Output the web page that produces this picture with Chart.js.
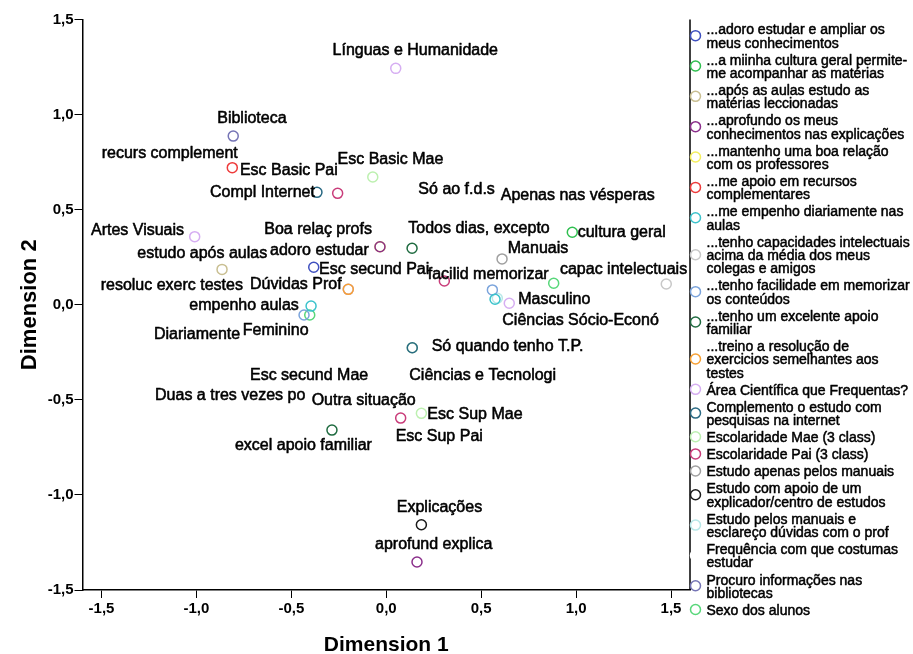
<!DOCTYPE html>
<html><head><meta charset="utf-8">
<script src="https://cdn.jsdelivr.net/npm/chart.js@4.4.1/dist/chart.umd.min.js"></script>
<style>html,body{margin:0;padding:0;background:#fff}#wrap{width:913px;height:654px}</style>
</head><body><div id="wrap"><canvas id="c" width="913" height="654"></canvas></div>
<script>
// ---- series (legend) ----
const seriesNames = [
 ['...adoro estudar e ampliar os','meus conhecimentos'],
 ['...a miinha cultura geral permite-','me acompanhar as matérias'],
 ['...após as aulas estudo as','matérias leccionadas'],
 ['...aprofundo os meus','conhecimentos nas explicações'],
 ['...mantenho uma boa relação','com os professores'],
 ['...me apoio em recursos','complementares'],
 ['...me empenho diariamente nas','aulas'],
 ['...tenho capacidades intelectuais','acima da média dos meus','colegas e amigos'],
 ['...tenho facilidade em memorizar','os conteúdos'],
 ['...tenho um excelente apoio','familiar'],
 ['...treino a resolução de','exercicios semelhantes aos','testes'],
 ['Área Científica que Frequentas?'],
 ['Complemento o estudo com','pesquisas na internet'],
 ['Escolaridade Mae (3 class)'],
 ['Escolaridade Pai (3 class)'],
 ['Estudo apenas pelos manuais'],
 ['Estudo com apoio de um','explicador/centro de estudos'],
 ['Estudo pelos manuais e','esclareço dúvidas com o prof'],
 ['Frequência com que costumas','estudar'],
 ['Procuro informações nas','bibliotecas'],
 ['Sexo dos alunos']
];
const seriesColors = ['#3f50bf','#2fbf4f','#c9bf92','#8b2f8b','#f5ef5c','#ee3b3b','#3cc3cc','#c8c8c8',
 '#7ba4dc','#1f6b40','#f7a033','#d6aef2','#2a6a84','#bdf0b0','#c93d7a','#a0a0a0','#1a1a1a',
 '#b8e8e8','#ffffff','#7574b5','#58d77a'];

// ---- category points ----
const pointSeries = [0,1,2,3,3,4,5,6,6,7,8,8,9,9,10,11,11,11,11,12,12,13,13,13,14,14,14,15,16,17,17,
 18,18,18,18,18,18,18,19,20,20];
const pointLabels = ['adoro estudar','cultura geral','estudo após aulas','aprofund explica','',
 'Boa relaç profs','recurs complement','empenho aulas','','capac intelectuais','facilid memorizar','',
 'excel apoio familiar','','resoluc exerc testes','Línguas e Humanidade','Artes Visuais',
 'Ciências Sócio-Econó','Ciências e Tecnologi','Compl Internet','','Esc Basic Mae','Esc secund Mae',
 'Esc Sup Mae','Esc Basic Pai','Esc secund Pai','Esc Sup Pai','Manuais','Explicações','Dúvidas Prof','',
 'Diariamente','Duas a tres vezes po','Todos dias, excepto','Só ao f.d.s','Apenas nas vésperas',
 'Só quando tenho T.P.','Outra situação','Biblioteca','Feminino','Masculino'];
const dim1 = [-0.382,0.980,-0.865,0.162,-0.033,-0.033,-0.811,-0.396,0.573,1.475,0.559,-0.433,-0.286,0.136,
 -0.200,0.050,-1.009,0.648,-0.200,-0.365,0.137,-0.071,0.137,0.185,-0.256,0.306,0.076,0.610,0.185,-0.200,0.585,
 -1.266,-1.260,0.074,0.127,0.561,0.197,-0.435,-0.806,-0.403,0.882];
const dim2 = [0.197,0.381,0.186,-1.353,0.305,0.305,0.721,-0.007,0.029,0.109,0.078,-0.054,-0.659,0.297,
 0.081,1.243,0.358,0.008,0.081,0.591,-0.226,0.672,-0.226,-0.571,0.586,0.125,-0.596,0.241,-1.157,0.081,0.034,
 -0.159,-0.480,0.400,0.607,0.572,-0.221,-0.505,0.887,-0.054,0.113];

// ---- axis ticks ----
const xTickValues = [-1.5,-1.0,-0.5,0.0,0.5,1.0,1.5];
const xTickLabels = ['-1,5','-1,0','-0,5','0,0','0,5','1,0','1,5'];
const yTickValues = [-1.5,-1.0,-0.5,0.0,0.5,1.0,1.5];
const yTickLabels = ['-1,5','-1,0','-0,5','0,0','0,5','1,0','1,5'];

// ---- label placement (pixel offset of text from its point) ----
const labelOffsets = [[-43.7,-16.6],[5.4,0],[-84.7,-16],[-42,-17.7],[0,0],[-115.7,-17.2],[-130.6,-13.7],
 [-121.7,0],[0,0],[-106.3,-14.7],[-64.6,-15],[0,0],[-97,16],[0,0],[-247.6,-3.6],[-63.2,-17.6],[-103.7,-5.7],
 [-7,17.4],[61,86.4],[-107,0.4],[0,0],[-35.2,-17],[-162.3,28],[6,1],[-97.7,-22.6],[-125.3,-11],[-5,18.7],
 [5.7,-10.3],[-24.6,-17],[-98.3,-4.3],[0,0],[8,0],[8,0],[8,0],[8,0],[8,0],[8,0],[8,0],[-16,-17.7],[-67,15.7],
 [-35.4,16.7]];

const FONT = '"Liberation Sans", Arial, Helvetica, sans-serif';

const datasets = seriesNames.map((name, s) => ({
  label: name.join(' '),
  data: pointSeries.map((ps, i) => ps === s ? {x: dim1[i], y: dim2[i], label: pointLabels[i], idx: i} : null)
        .filter(p => p),
  pointStyle: 'circle', pointRadius: 5, pointHoverRadius: 5,
  borderColor: seriesColors[s], pointBorderColor: seriesColors[s],
  backgroundColor: 'rgba(0,0,0,0)', pointBackgroundColor: 'rgba(0,0,0,0)',
  pointBorderWidth: 1.5, showLine: false
}));

function heavyText(ctx, t, x, y) {
  ctx.fillText(t, x, y);
  ctx.strokeText(t, x, y);
}

const labelPlugin = {
  id: 'catLabels',
  afterDatasetsDraw(chart) {
    const ctx = chart.ctx; ctx.save();
    ctx.font = '16px ' + FONT; ctx.fillStyle = '#000'; ctx.strokeStyle = '#000'; ctx.lineWidth = 0.55;
    ctx.lineJoin = 'round';
    ctx.textBaseline = 'middle'; ctx.textAlign = 'left';
    chart.data.datasets.forEach((ds, di) => {
      chart.getDatasetMeta(di).data.forEach((el, j) => {
        const p = ds.data[j]; if (!p.label) return;
        const o = labelOffsets[p.idx];
        heavyText(ctx, p.label, el.x + o[0], el.y + o[1]);
      });
    });
    ctx.restore();
  }
};

const framePlugin = {
  id: 'frameLegend',
  afterDraw(chart) {
    const ctx = chart.ctx, a = chart.chartArea;
    ctx.save();
    ctx.strokeStyle = '#000'; ctx.lineWidth = 1.5;
    ctx.beginPath(); ctx.moveTo(a.right, a.top); ctx.lineTo(a.right, a.bottom); ctx.stroke();
    // legend
    const lh = 13.25, gap = 3.85;
    let y = 30.5;
    ctx.font = '14px ' + FONT; ctx.fillStyle = '#000';
    ctx.textBaseline = 'middle'; ctx.textAlign = 'left'; ctx.lineJoin = 'round';
    seriesNames.forEach((lines, i) => {
      const mid = y + (lines.length - 1) * lh / 2;
      ctx.beginPath(); ctx.arc(695.5, mid - 1.5, 5, 0, Math.PI * 2);
      ctx.strokeStyle = seriesColors[i]; ctx.lineWidth = 1.5; ctx.stroke();
      ctx.strokeStyle = '#000'; ctx.lineWidth = 0.5;
      lines.forEach((t, k) => heavyText(ctx, t, 706.5, y + k * lh));
      y += lines.length * lh + gap;
    });
    ctx.restore();
  }
};

new Chart(document.getElementById('c'), {
  type: 'scatter',
  data: { datasets },
  plugins: [labelPlugin, framePlugin],
  options: {
    responsive: false, animation: false, events: [],
    layout: { padding: { left: 0, top: 19.5, right: 223, bottom: 0 } },
    plugins: { legend: { display: false }, tooltip: { enabled: false } },
    scales: {
      x: {
        type: 'linear', min: -1.6, max: 1.6,
        afterBuildTicks: s => { s.ticks = xTickValues.map(v => ({ value: v })); },
        afterFit: s => { s.height = 64; },
        grid: { drawOnChartArea: false, drawTicks: true, tickLength: 8, color: '#000', lineWidth: 1 },
        border: { display: true, color: '#000', width: 1.5 },
        ticks: { color: '#000', font: { family: FONT, size: 15, weight: 'bold' }, padding: 2,
          maxRotation: 0, autoSkip: false, callback: v => xTickLabels[xTickValues.indexOf(v)] },
        title: { display: true, text: 'Dimension 1', color: '#000',
          font: { family: FONT, size: 21, weight: 'bold', lineHeight: 1 }, padding: { top: 0, bottom: -1.5 } }
      },
      y: {
        type: 'linear', min: -1.5, max: 1.5,
        afterBuildTicks: s => { s.ticks = yTickValues.map(v => ({ value: v })); },
        afterFit: s => { s.width = 82.5; },
        grid: { drawOnChartArea: false, drawTicks: true, tickLength: 8, color: '#000', lineWidth: 1 },
        border: { display: true, color: '#000', width: 1.5 },
        ticks: { color: '#000', font: { family: FONT, size: 15, weight: 'bold' }, padding: 1,
          autoSkip: false, callback: v => yTickLabels[yTickValues.indexOf(v)] },
        title: { display: true, text: 'Dimension 2', color: '#000',
          font: { family: FONT, size: 22, weight: 'bold', lineHeight: 1 }, padding: { top: 19, bottom: 0 } }
      }
    }
  }
});
</script></body></html>
